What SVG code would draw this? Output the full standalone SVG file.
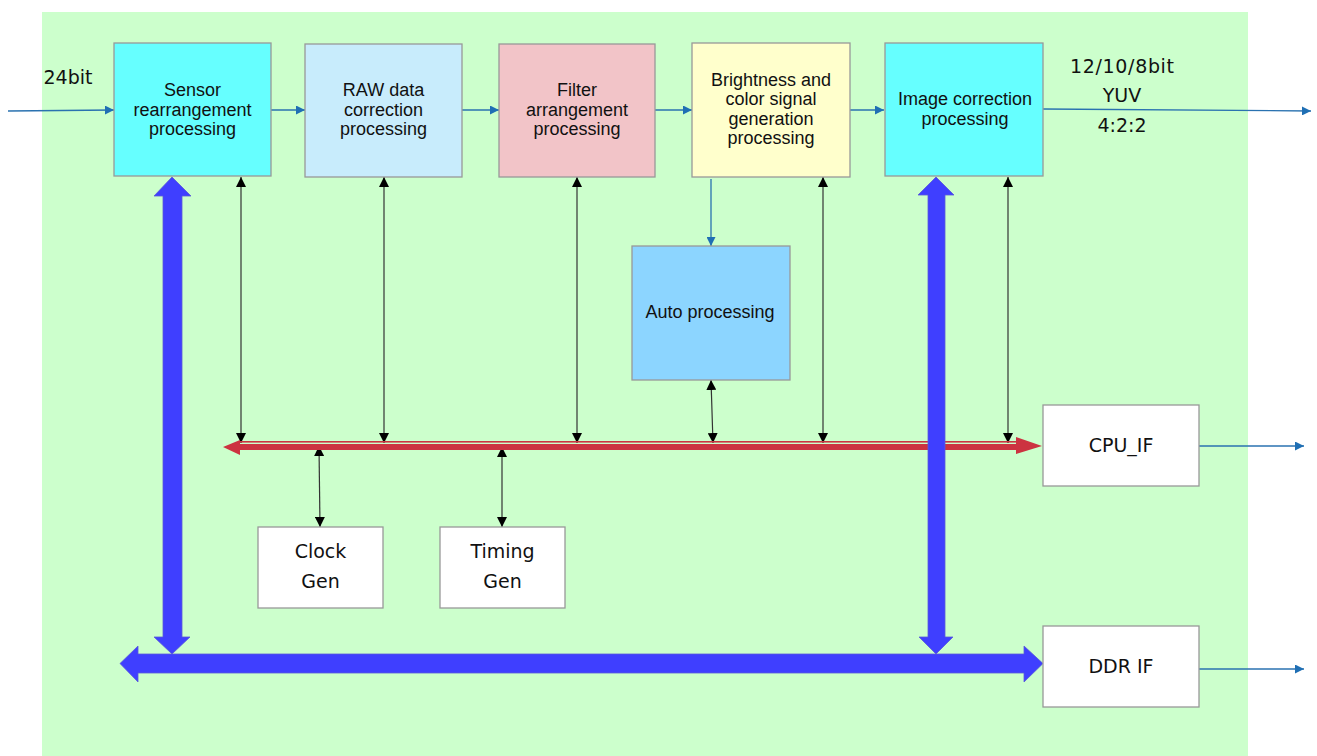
<svg xmlns="http://www.w3.org/2000/svg" width="1317" height="756" viewBox="0 0 1317 756">
<defs>
<style>
.box{stroke:#999;stroke-width:1.3}
.t{font-family:"Liberation Sans",Arial,sans-serif;font-size:18px;fill:#111;text-anchor:middle}
.v{font-family:"DejaVu Sans",Verdana,sans-serif;font-size:19px;fill:#111;text-anchor:middle}
.bl{stroke:#2a72b0;stroke-width:1.3;fill:none}
.bk{stroke:#333;stroke-width:1.2;fill:none}
.bus{fill:#3f3fff;stroke:#5a5ad8;stroke-width:0.8}
.red{fill:#cc3340}
</style>
<marker id="ab" viewBox="0 0 10 10" refX="10" refY="5" markerWidth="9" markerHeight="9" markerUnits="userSpaceOnUse" orient="auto"><path d="M0,0 L10,5 L0,10 Z" fill="#1f6fb4"/></marker>
<marker id="ak" viewBox="0 0 10 10" refX="10" refY="5" markerWidth="10" markerHeight="10" markerUnits="userSpaceOnUse" orient="auto-start-reverse"><path d="M0,0 L10,5 L0,10 Z" fill="#000"/></marker>
</defs>
<rect x="0" y="0" width="1317" height="756" fill="#fff"/>
<rect x="42" y="12" width="1206" height="744" fill="#ccffcc"/>

<g id="connectors">
<line class="bl" x1="8" y1="111" x2="114" y2="110" marker-end="url(#ab)"/>
<line class="bl" x1="271" y1="110" x2="305" y2="110" marker-end="url(#ab)"/>
<line class="bl" x1="462" y1="110" x2="499" y2="110" marker-end="url(#ab)"/>
<line class="bl" x1="655" y1="110" x2="692" y2="110" marker-end="url(#ab)"/>
<line class="bl" x1="850" y1="110" x2="884" y2="110" marker-end="url(#ab)"/>
<line class="bl" x1="1043" y1="109" x2="1311" y2="111" marker-end="url(#ab)"/>
<line class="bl" x1="711" y1="179" x2="711" y2="246" marker-end="url(#ab)"/>
<line class="bl" x1="1199" y1="446" x2="1304" y2="446" marker-end="url(#ab)"/>
<line class="bl" x1="1199" y1="669" x2="1304" y2="669" marker-end="url(#ab)"/>

<line class="bk" x1="241" y1="177" x2="241" y2="443" marker-start="url(#ak)" marker-end="url(#ak)"/>
<line class="bk" x1="384" y1="177" x2="384" y2="443" marker-start="url(#ak)" marker-end="url(#ak)"/>
<line class="bk" x1="577" y1="177" x2="577" y2="443" marker-start="url(#ak)" marker-end="url(#ak)"/>
<line class="bk" x1="823" y1="177" x2="823" y2="443" marker-start="url(#ak)" marker-end="url(#ak)"/>
<line class="bk" x1="1008" y1="177" x2="1008" y2="443" marker-start="url(#ak)" marker-end="url(#ak)"/>
<line class="bk" x1="711" y1="380" x2="713" y2="443" marker-start="url(#ak)" marker-end="url(#ak)"/>
<line class="bk" x1="319" y1="446" x2="320" y2="527" marker-start="url(#ak)" marker-end="url(#ak)"/>
<line class="bk" x1="502" y1="447" x2="502" y2="527" marker-start="url(#ak)" marker-end="url(#ak)"/>

<g id="red-bus">
<rect class="red" x="238" y="441" width="780" height="1.6"/>
<polygon class="red" points="223,447 240,440 240,444 1016,444 1016,437 1042,446 1016,454 1016,450 240,450 240,455"/>
</g>
<g id="blue-bus">
<polygon class="bus" points="172,177 191,196 182,196 182,637 190,637 172,654 154,637 163,637 163,196 154,196"/>
<polygon class="bus" points="936,177 954,195 945,195 945,637 953,637 936,654 919,637 928,637 928,195 918,195"/>
<polygon class="bus" points="120,663.5 138,646 138,654 1024,654 1024,646 1043,663.5 1024,682 1024,673 138,673 138,682"/>
</g>
</g>

<g id="label-24bit"><text class="v" x="68" y="84">24bit</text></g>
<g id="label-out"><text class="v" x="1122" y="73" textLength="104">12/10/8bit</text><text class="v" x="1122" y="102">YUV</text><text class="v" x="1122" y="132">4:2:2</text></g>

<g id="sensor"><rect class="box" x="114" y="43" width="157" height="133" fill="#66ffff"/>
<text class="t" x="192.5" y="96">Sensor</text><text class="t" x="192.5" y="115.5">rearrangement</text><text class="t" x="192.5" y="135">processing</text></g>
<g id="raw"><rect class="box" x="305" y="44" width="157" height="133" fill="#c8ecfc"/>
<text class="t" x="383.5" y="96">RAW data</text><text class="t" x="383.5" y="115.5">correction</text><text class="t" x="383.5" y="135">processing</text></g>
<g id="filter"><rect class="box" x="499" y="44" width="156" height="133" fill="#f2c4c8"/>
<text class="t" x="577" y="96">Filter</text><text class="t" x="577" y="115.5">arrangement</text><text class="t" x="577" y="135">processing</text></g>
<g id="brightness"><rect class="box" x="692" y="43" width="158" height="134" fill="#ffffcc"/>
<text class="t" x="771" y="86">Brightness and</text><text class="t" x="771" y="105">color signal</text><text class="t" x="771" y="124.5">generation</text><text class="t" x="771" y="144">processing</text></g>
<g id="image"><rect class="box" x="885" y="43" width="158" height="133" fill="#66ffff"/>
<text class="t" x="965" y="105">Image correction</text><text class="t" x="965" y="124.5">processing</text></g>
<g id="auto"><rect class="box" x="632" y="246" width="158" height="134" fill="#8cd5ff"/>
<text class="t" x="710" y="318">Auto processing</text></g>
<g id="cpu-if"><rect class="box" x="1043" y="405" width="156" height="81" fill="#fff"/>
<text class="v" x="1121" y="452">CPU_IF</text></g>
<g id="ddr-if"><rect class="box" x="1043" y="626" width="156" height="81" fill="#fff"/>
<text class="v" x="1121" y="673">DDR IF</text></g>
<g id="clock-gen"><rect class="box" x="258" y="527" width="125" height="81" fill="#fff"/>
<text class="v" x="320.5" y="558">Clock</text><text class="v" x="320.5" y="588">Gen</text></g>
<g id="timing-gen"><rect class="box" x="440" y="527" width="125" height="81" fill="#fff"/>
<text class="v" x="502.5" y="558">Timing</text><text class="v" x="502.5" y="588">Gen</text></g>
</svg>
